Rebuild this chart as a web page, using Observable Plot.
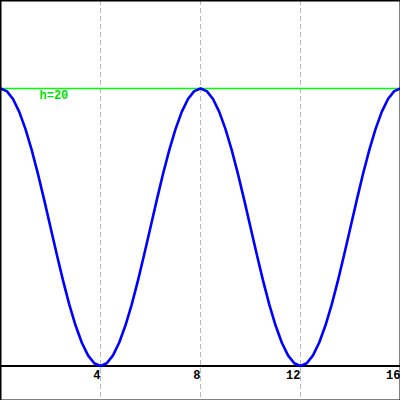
<!DOCTYPE html>
<html>
<head>
<meta charset="utf-8">
<script src="https://cdn.jsdelivr.net/npm/d3@7"></script>
<script src="https://cdn.jsdelivr.net/npm/@observablehq/plot@0.6"></script>
<style>
  html, body { margin: 0; padding: 0; background: #fff; }
  svg { display: block; }
</style>
</head>
<body>
<div id="chart"></div>
<script>
const xs = [0,0.25,0.5,0.75,1,1.25,1.5,1.75,2,2.25,2.5,2.75,3,3.25,3.5,3.75,4,4.25,4.5,4.75,5,5.25,5.5,5.75,6,6.25,6.5,6.75,7,7.25,7.5,7.75,8,8.25,8.5,8.75,9,9.25,9.5,9.75,10,10.25,10.5,10.75,11,11.25,11.5,11.75,12,12.25,12.5,12.75,13,13.25,13.5,13.75,14,14.25,14.5,14.75,15,15.25,15.5,15.75,16];
const ys = [20,19.81,19.24,18.31,17.07,15.56,13.83,11.95,10,8.05,6.17,4.44,2.93,1.69,0.76,0.19,0,0.19,0.76,1.69,2.93,4.44,6.17,8.05,10,11.95,13.83,15.56,17.07,18.31,19.24,19.81,20,19.81,19.24,18.31,17.07,15.56,13.83,11.95,10,8.05,6.17,4.44,2.93,1.69,0.76,0.19,0,0.19,0.76,1.69,2.93,4.44,6.17,8.05,10,11.95,13.83,15.56,17.07,18.31,19.24,19.81,20];
const gridTicks = [4, 8, 12];
const tickLabels = [4, 8, 12, 16];
const hLevel = 20;
const hLabel = "h=20";

const data = xs.map((x, i) => ({x, y: ys[i]}));
const mono = "'Liberation Mono', 'DejaVu Sans Mono', monospace";

const chart = Plot.plot({
  width: 400,
  height: 400,
  margin: 0,
  x: {domain: [0, 16], axis: null},
  y: {domain: [-2.49, 26.34], axis: null},
  marks: [
    Plot.ruleX(gridTicks, {stroke: "#bbbbbb", strokeWidth: 1, strokeDasharray: "5,3"}),
    Plot.ruleY([0], {stroke: "#000", strokeWidth: 2}),
    Plot.ruleY([hLevel], {stroke: "#00ff00", strokeWidth: 1.5}),
    Plot.line(data, {x: "x", y: "y", stroke: "#0000ff", strokeWidth: 2.6}),
    Plot.text([hLabel], {x: 1.56, y: hLevel, text: d => d, textAnchor: "start", lineAnchor: "top", dy: 2, fill: "#00e000", fontWeight: "bold", fontSize: 12, fontFamily: mono}),
    Plot.text(tickLabels, {x: d => d, y: 0, text: d => String(d), textAnchor: "end", lineAnchor: "top", dy: 5, dx: 0, fill: "#000", fontWeight: "bold", fontSize: 12, fontFamily: mono}),
    Plot.frame({stroke: "#000", strokeWidth: 2})
  ]
});
document.getElementById("chart").appendChild(chart);
</script>
</body>
</html>
